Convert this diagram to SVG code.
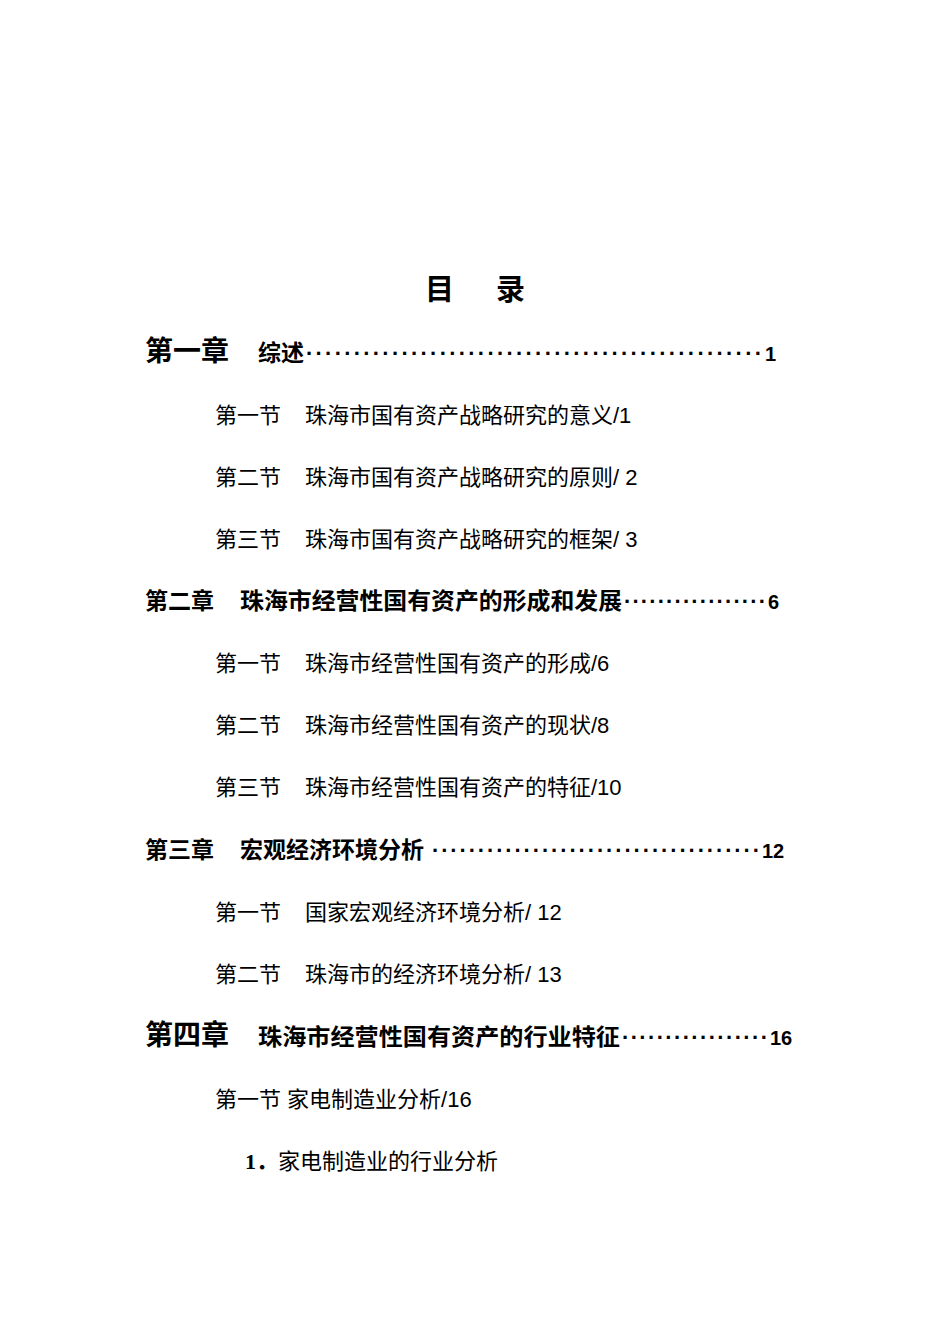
<svg xmlns="http://www.w3.org/2000/svg" width="950" height="1344" viewBox="0 0 950 1344">
<style>
.t{font-family:"Liberation Sans","Noto Sans CJK SC",sans-serif;fill:#000}
.h{font-size:29px;font-weight:bold}
.c1{font-size:28px;font-weight:bold}
.c2{font-size:23px;font-weight:bold}
.n{font-size:20px;font-weight:bold}
.s{font-size:22px}
.d{font-size:22px;font-weight:900}
.r{font-family:"Liberation Serif","Noto Sans CJK SC",serif;font-size:22px}
</style>
<rect width="950" height="1344" fill="#fff"/>
<g id="title"><text class="t h" x="425" y="300">目</text><text class="t h" x="496" y="300">录</text></g>
<g id="ch1"><text class="t c1" x="145" y="361">第一章</text><text class="t c2" x="258" y="361">综述</text><text class="t d" x="306" y="361" textLength="456" lengthAdjust="spacing">················································</text><text class="t n" x="765" y="361" font-size="17">1</text></g>
<g id="s11"><text class="t s" x="215" y="423">第一节</text><text class="t s" x="305" y="423">珠海市国有资产战略研究的意义/1</text></g>
<g id="s12"><text class="t s" x="215" y="485">第二节</text><text class="t s" x="305" y="485">珠海市国有资产战略研究的原则/ 2</text></g>
<g id="s13"><text class="t s" x="215" y="547">第三节</text><text class="t s" x="305" y="547">珠海市国有资产战略研究的框架/ 3</text></g>
<g id="ch2"><text class="t c2" x="145" y="609">第二章</text><text class="t c2" x="240" y="609" textLength="382" lengthAdjust="spacingAndGlyphs">珠海市经营性国有资产的形成和发展</text><text class="t d" x="624" y="609" textLength="142" lengthAdjust="spacing">·················</text><text class="t n" x="768" y="609">6</text></g>
<g id="s21"><text class="t s" x="215" y="671">第一节</text><text class="t s" x="305" y="671">珠海市经营性国有资产的形成/6</text></g>
<g id="s22"><text class="t s" x="215" y="733">第二节</text><text class="t s" x="305" y="733">珠海市经营性国有资产的现状/8</text></g>
<g id="s23"><text class="t s" x="215" y="795">第三节</text><text class="t s" x="305" y="795">珠海市经营性国有资产的特征/10</text></g>
<g id="ch3"><text class="t c2" x="145" y="858">第三章</text><text class="t c2" x="240" y="858">宏观经济环境分析</text><text class="t d" x="432" y="858" textLength="328" lengthAdjust="spacing">····································</text><text class="t n" x="762" y="858">12</text></g>
<g id="s31"><text class="t s" x="215" y="920">第一节</text><text class="t s" x="305" y="920">国家宏观经济环境分析/ 12</text></g>
<g id="s32"><text class="t s" x="215" y="982">第二节</text><text class="t s" x="305" y="982">珠海市的经济环境分析/ 13</text></g>
<g id="ch4"><text class="t c1" x="145" y="1045">第四章</text><text class="t c2" x="258" y="1045" textLength="362" lengthAdjust="spacingAndGlyphs">珠海市经营性国有资产的行业特征</text><text class="t d" x="622" y="1045" textLength="146" lengthAdjust="spacing">·················</text><text class="t n" x="770" y="1045">16</text></g>
<g id="s41"><text class="t s" x="215" y="1107">第一节 家电制造业分析/16</text></g>
<g id="p1"><text class="r" x="245" y="1169"><tspan font-weight="bold">1．</tspan>家电制造业的行业分析</text></g>
<g id="connectors"/>
</svg>
